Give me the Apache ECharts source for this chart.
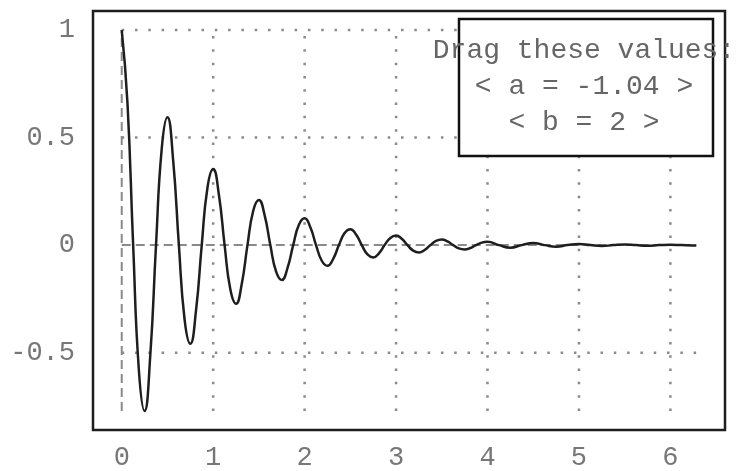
<!DOCTYPE html>
<html>
<head>
<meta charset="utf-8">
<script src="https://cdn.jsdelivr.net/npm/echarts@6/dist/echarts.min.js"></script>
<style>
  html, body { margin: 0; padding: 0; background: #fff; }
  #chart { width: 738px; height: 471px; }
</style>
</head>
<body>
<div id="chart"></div>
<script>
// curve (damped oscillation)
var curveX = [
  0, 0.0625, 0.125, 0.1875, 0.25, 0.3125, 0.375, 0.4375,
  0.5, 0.5625, 0.625, 0.6875, 0.75, 0.8125, 0.875, 0.9375,
  1, 1.0625, 1.125, 1.1875, 1.25, 1.3125, 1.375, 1.4375,
  1.5, 1.5625, 1.625, 1.6875, 1.75, 1.8125, 1.875, 1.9375,
  2, 2.0625, 2.125, 2.1875, 2.25, 2.3125, 2.375, 2.4375,
  2.5, 2.5625, 2.625, 2.6875, 2.75, 2.8125, 2.875, 2.9375,
  3, 3.0625, 3.125, 3.1875, 3.25, 3.3125, 3.375, 3.4375,
  3.5, 3.5625, 3.625, 3.6875, 3.75, 3.8125, 3.875, 3.9375,
  4, 4.125, 4.25, 4.375, 4.5, 4.625, 4.75, 4.875,
  5, 5.125, 5.25, 5.375, 5.5, 5.625, 5.75, 5.875,
  6, 6.125, 6.25, 6.283
];
var curveY = [
  1, 0.6626, 0, -0.5818, -0.7711, -0.5109, 0, 0.4486,
  0.5945, 0.3939, 0, -0.3459, -0.4584, -0.3038, 0, 0.2667,
  0.3535, 0.2342, 0, -0.2056, -0.2725, -0.1806, 0, 0.1586,
  0.2101, 0.1392, 0, -0.1223, -0.1620, -0.1073, 0, 0.0943,
  0.1249, 0.0828, 0, -0.0727, -0.0963, -0.0639, 0, 0.0561,
  0.0743, 0.0492, 0, -0.0432, -0.0573, -0.0380, 0, 0.0333,
  0.0442, 0.0293, 0, -0.0257, -0.0340, -0.0226, 0, 0.0198,
  0.0262, 0.0174, 0, -0.0153, -0.0202, -0.0134, 0, 0.0117,
  0.0156, 0, -0.012, 0, 0.0093, 0, -0.0072, 0,
  0.0055, 0, -0.0043, 0, 0.0033, 0, -0.0025, 0,
  0.002, 0, -0.0015, -0.0013
];
var xTicks = [0, 1, 2, 3, 4, 5, 6];
var yTicks = [-0.5, 0, 0.5, 1];
var legendLines = ['Drag these values:', '< a = -1.04 >', '< b = 2 >'];

var xMin = Math.min.apply(null, curveX), xMax = Math.max.apply(null, curveX);
var yMin = Math.min.apply(null, curveY), yMax = Math.max.apply(null, curveY);

var curveData = curveX.map(function (x, i) { return [x, curveY[i]]; });

var gridColor = '#8a8a8a';
var font = 'Liberation Mono';

function guide(data, dash, w) {
  return {
    type: 'line',
    data: data,
    symbol: 'none',
    silent: true,
    z: 1,
    lineStyle: { color: gridColor, width: w, type: dash, cap: 'butt' }
  };
}

var series = [];
// dotted grid, only over the data extent
xTicks.forEach(function (t) {
  if (t === 0) return;
  series.push(guide([[t, yMin], [t, yMax]], [2.5, 10.8], 2.5));
});
yTicks.forEach(function (t) {
  if (t === 0) return;
  series.push(guide([[xMin, t], [xMax, t]], [2.5, 10.8], 2.5));
});
// dashed zero lines
series.push(guide([[0, yMin], [0, yMax]], [9, 5], 2));
series.push(guide([[xMin, 0], [xMax, 0]], [9, 5], 2));
// the curve
series.push({
  type: 'line',
  data: curveData,
  symbol: 'none',
  smooth: 0.5,
  z: 5,
  lineStyle: { color: '#1e1e1e', width: 2.5 }
});

var chart = echarts.init(document.getElementById('chart'));
chart.setOption({
  animation: false,
  grid: {
    left: 93, right: 13, top: 11, bottom: 40,
    show: true, borderColor: '#1e1e1e', borderWidth: 2.5, backgroundColor: '#fff'
  },
  xAxis: {
    type: 'value',
    min: function (v) { return v.min - 0.05 * (v.max - v.min); },
    max: function (v) { return v.max + 0.05 * (v.max - v.min); },
    axisLine: { show: false },
    axisTick: { show: false },
    splitLine: { show: false },
    axisLabel: {
      customValues: xTicks,
      color: '#777', fontFamily: font, fontSize: 27, margin: 14
    }
  },
  yAxis: {
    type: 'value',
    min: function (v) { return v.min - 0.05 * (v.max - v.min); },
    max: function (v) { return v.max + 0.05 * (v.max - v.min); },
    axisLine: { show: false },
    axisTick: { show: false },
    splitLine: { show: false },
    axisLabel: {
      customValues: yTicks,
      color: '#777', fontFamily: font, fontSize: 27, margin: 18
    }
  },
  series: series,
  graphic: [
    {
      type: 'rect', z: 100,
      shape: { x: 459, y: 19, width: 254, height: 137 },
      style: { fill: '#fff', stroke: '#111', lineWidth: 2.5 }
    }
  ].concat(legendLines.map(function (txt, i) {
    return {
      type: 'text', z: 101,
      x: 584, y: 51 + i * 36,
      style: {
        text: txt,
        font: '28px "Liberation Mono"',
        fill: '#666',
        textAlign: 'center',
        textVerticalAlign: 'middle'
      }
    };
  }))
});
</script>
</body>
</html>
